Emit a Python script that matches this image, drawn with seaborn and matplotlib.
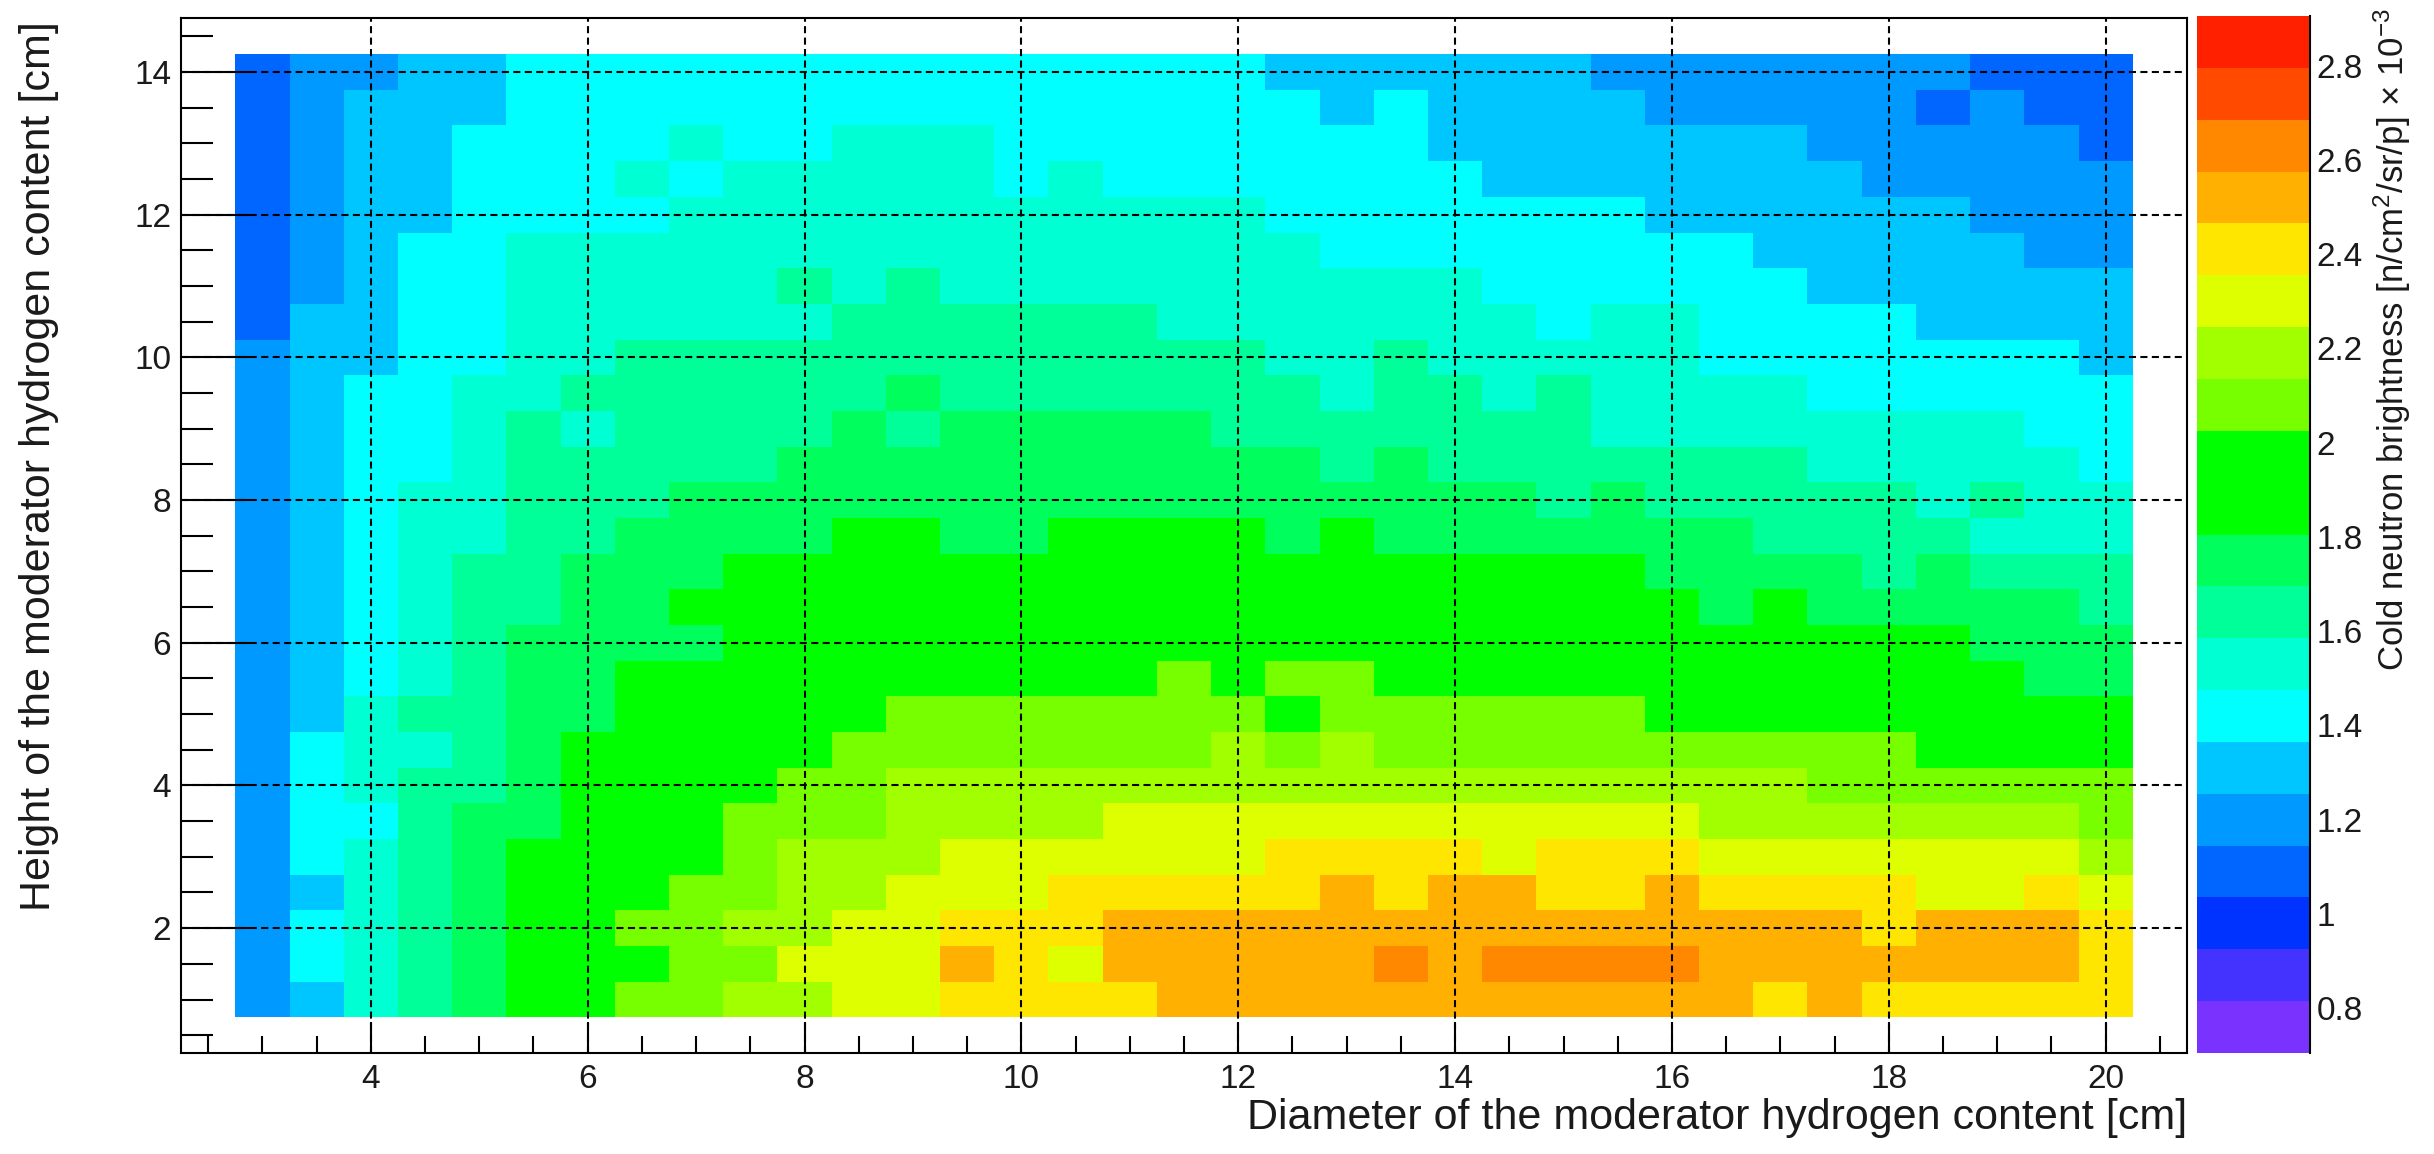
import numpy as np
import pandas as pd
import matplotlib
matplotlib.use("Agg")
import matplotlib.pyplot as plt
from matplotlib.colors import ListedColormap, BoundaryNorm
from matplotlib.ticker import FixedLocator, FuncFormatter, NullFormatter
import seaborn as sns

sns.set_theme(style="white")
plt.rcParams["font.family"] = ["Liberation Sans", "DejaVu Sans"]
plt.rcParams["mathtext.fontset"] = "custom"
plt.rcParams["mathtext.rm"] = "Liberation Sans"
plt.rcParams["mathtext.it"] = "Liberation Sans:italic"
plt.rcParams["mathtext.bf"] = "Liberation Sans:bold"

# Cold neutron brightness (x 1e-3 n/cm^2/sr/p), one list per moderator height bin.
# Columns: moderator diameter 3.0 ... 20.0 cm in 0.5 cm steps.
diameter_cm = [3.0, 3.5, 4.0, 4.5, 5.0, 5.5, 6.0, 6.5, 7.0, 7.5, 8.0, 8.5,
               9.0, 9.5, 10.0, 10.5, 11.0, 11.5, 12.0, 12.5, 13.0, 13.5,
               14.0, 14.5, 15.0, 15.5, 16.0, 16.5, 17.0, 17.5, 18.0, 18.5,
               19.0, 19.5, 20.0]

h14_0 = [1.09, 1.20, 1.20, 1.31, 1.31, 1.42, 1.42, 1.42, 1.42,
         1.42, 1.42, 1.42, 1.42, 1.42, 1.42, 1.42, 1.42, 1.42,
         1.42, 1.31, 1.31, 1.31, 1.31, 1.31, 1.31, 1.20, 1.20,
         1.20, 1.20, 1.20, 1.20, 1.20, 1.09, 1.09, 1.09]
h13_5 = [1.09, 1.20, 1.31, 1.31, 1.31, 1.42, 1.42, 1.42, 1.42,
         1.42, 1.42, 1.42, 1.42, 1.42, 1.42, 1.42, 1.42, 1.42,
         1.42, 1.42, 1.31, 1.42, 1.31, 1.31, 1.31, 1.31, 1.20,
         1.20, 1.20, 1.20, 1.20, 1.09, 1.20, 1.09, 1.09]
h13_0 = [1.09, 1.20, 1.31, 1.31, 1.42, 1.42, 1.42, 1.42, 1.53,
         1.42, 1.42, 1.53, 1.53, 1.53, 1.42, 1.42, 1.42, 1.42,
         1.42, 1.42, 1.42, 1.42, 1.31, 1.31, 1.31, 1.31, 1.31,
         1.31, 1.31, 1.20, 1.20, 1.20, 1.20, 1.20, 1.09]
h12_5 = [1.09, 1.20, 1.31, 1.31, 1.42, 1.42, 1.42, 1.53, 1.42,
         1.53, 1.53, 1.53, 1.53, 1.53, 1.42, 1.53, 1.42, 1.42,
         1.42, 1.42, 1.42, 1.42, 1.42, 1.31, 1.31, 1.31, 1.31,
         1.31, 1.31, 1.31, 1.20, 1.20, 1.20, 1.20, 1.20]
h12_0 = [1.09, 1.20, 1.31, 1.31, 1.42, 1.42, 1.42, 1.42, 1.53,
         1.53, 1.53, 1.53, 1.53, 1.53, 1.53, 1.53, 1.53, 1.53,
         1.53, 1.42, 1.42, 1.42, 1.42, 1.42, 1.42, 1.42, 1.31,
         1.31, 1.31, 1.31, 1.31, 1.31, 1.20, 1.20, 1.20]
h11_5 = [1.09, 1.20, 1.31, 1.42, 1.42, 1.53, 1.53, 1.53, 1.53,
         1.53, 1.53, 1.53, 1.53, 1.53, 1.53, 1.53, 1.53, 1.53,
         1.53, 1.53, 1.42, 1.42, 1.42, 1.42, 1.42, 1.42, 1.42,
         1.42, 1.31, 1.31, 1.31, 1.31, 1.31, 1.20, 1.20]
h11_0 = [1.09, 1.20, 1.31, 1.42, 1.42, 1.53, 1.53, 1.53, 1.53,
         1.53, 1.64, 1.53, 1.64, 1.53, 1.53, 1.53, 1.53, 1.53,
         1.53, 1.53, 1.53, 1.53, 1.53, 1.42, 1.42, 1.42, 1.42,
         1.42, 1.42, 1.31, 1.31, 1.31, 1.31, 1.31, 1.31]
h10_5 = [1.09, 1.31, 1.31, 1.42, 1.42, 1.53, 1.53, 1.53, 1.53,
         1.53, 1.53, 1.64, 1.64, 1.64, 1.64, 1.64, 1.64, 1.53,
         1.53, 1.53, 1.53, 1.53, 1.53, 1.53, 1.42, 1.53, 1.53,
         1.42, 1.42, 1.42, 1.42, 1.31, 1.31, 1.31, 1.31]
h10_0 = [1.20, 1.31, 1.31, 1.42, 1.42, 1.53, 1.53, 1.64, 1.64,
         1.64, 1.64, 1.64, 1.64, 1.64, 1.64, 1.64, 1.64, 1.64,
         1.64, 1.53, 1.53, 1.64, 1.53, 1.53, 1.53, 1.53, 1.53,
         1.42, 1.42, 1.42, 1.42, 1.42, 1.42, 1.42, 1.31]
h9_5 = [1.20, 1.31, 1.42, 1.42, 1.53, 1.53, 1.64, 1.64, 1.64,
        1.64, 1.64, 1.64, 1.75, 1.64, 1.64, 1.64, 1.64, 1.64,
        1.64, 1.64, 1.53, 1.64, 1.64, 1.53, 1.64, 1.53, 1.53,
        1.53, 1.53, 1.42, 1.42, 1.42, 1.42, 1.42, 1.42]
h9_0 = [1.20, 1.31, 1.42, 1.42, 1.53, 1.64, 1.53, 1.64, 1.64,
        1.64, 1.64, 1.75, 1.64, 1.75, 1.75, 1.75, 1.75, 1.75,
        1.64, 1.64, 1.64, 1.64, 1.64, 1.64, 1.64, 1.53, 1.53,
        1.53, 1.53, 1.53, 1.53, 1.53, 1.53, 1.42, 1.42]
h8_5 = [1.20, 1.31, 1.42, 1.42, 1.53, 1.64, 1.64, 1.64, 1.64,
        1.64, 1.75, 1.75, 1.75, 1.75, 1.75, 1.75, 1.75, 1.75,
        1.75, 1.75, 1.64, 1.75, 1.64, 1.64, 1.64, 1.64, 1.64,
        1.64, 1.64, 1.53, 1.53, 1.53, 1.53, 1.53, 1.42]
h8_0 = [1.20, 1.31, 1.42, 1.53, 1.53, 1.64, 1.64, 1.64, 1.75,
        1.75, 1.75, 1.75, 1.75, 1.75, 1.75, 1.75, 1.75, 1.75,
        1.75, 1.75, 1.75, 1.75, 1.75, 1.75, 1.64, 1.75, 1.64,
        1.64, 1.64, 1.64, 1.64, 1.53, 1.64, 1.53, 1.53]
h7_5 = [1.20, 1.31, 1.42, 1.53, 1.53, 1.64, 1.64, 1.75, 1.75,
        1.75, 1.75, 1.90, 1.90, 1.75, 1.75, 1.90, 1.90, 1.90,
        1.90, 1.75, 1.90, 1.75, 1.75, 1.75, 1.75, 1.75, 1.75,
        1.75, 1.64, 1.64, 1.64, 1.64, 1.53, 1.53, 1.53]
h7_0 = [1.20, 1.31, 1.42, 1.53, 1.64, 1.64, 1.75, 1.75, 1.75,
        1.90, 1.90, 1.90, 1.90, 1.90, 1.90, 1.90, 1.90, 1.90,
        1.90, 1.90, 1.90, 1.90, 1.90, 1.90, 1.90, 1.90, 1.75,
        1.75, 1.75, 1.75, 1.64, 1.75, 1.64, 1.64, 1.64]
h6_5 = [1.20, 1.31, 1.42, 1.53, 1.64, 1.64, 1.75, 1.75, 1.90,
        1.90, 1.90, 1.90, 1.90, 1.90, 1.90, 1.90, 1.90, 1.90,
        1.90, 1.90, 1.90, 1.90, 1.90, 1.90, 1.90, 1.90, 1.90,
        1.75, 1.90, 1.75, 1.75, 1.75, 1.75, 1.75, 1.64]
h6_0 = [1.20, 1.31, 1.42, 1.53, 1.64, 1.75, 1.75, 1.75, 1.75,
        1.90, 1.90, 1.90, 1.90, 1.90, 1.90, 1.90, 1.90, 1.90,
        1.90, 1.90, 1.90, 1.90, 1.90, 1.90, 1.90, 1.90, 1.90,
        1.90, 1.90, 1.90, 1.90, 1.90, 1.75, 1.75, 1.75]
h5_5 = [1.20, 1.31, 1.42, 1.53, 1.64, 1.75, 1.75, 1.90, 1.90,
        1.90, 1.90, 1.90, 1.90, 1.90, 1.90, 1.90, 1.90, 2.08,
        1.90, 2.08, 2.08, 1.90, 1.90, 1.90, 1.90, 1.90, 1.90,
        1.90, 1.90, 1.90, 1.90, 1.90, 1.90, 1.75, 1.75]
h5_0 = [1.20, 1.31, 1.53, 1.64, 1.64, 1.75, 1.75, 1.90, 1.90,
        1.90, 1.90, 1.90, 2.08, 2.08, 2.08, 2.08, 2.08, 2.08,
        2.08, 1.90, 2.08, 2.08, 2.08, 2.08, 2.08, 2.08, 1.90,
        1.90, 1.90, 1.90, 1.90, 1.90, 1.90, 1.90, 1.90]
h4_5 = [1.20, 1.42, 1.53, 1.53, 1.64, 1.75, 1.90, 1.90, 1.90,
        1.90, 1.90, 2.08, 2.08, 2.08, 2.08, 2.08, 2.08, 2.08,
        2.19, 2.08, 2.19, 2.08, 2.08, 2.08, 2.08, 2.08, 2.08,
        2.08, 2.08, 2.08, 2.08, 1.90, 1.90, 1.90, 1.90]
h4_0 = [1.20, 1.42, 1.53, 1.64, 1.64, 1.75, 1.90, 1.90, 1.90,
        1.90, 2.08, 2.08, 2.19, 2.19, 2.19, 2.19, 2.19, 2.19,
        2.19, 2.19, 2.19, 2.19, 2.19, 2.19, 2.19, 2.19, 2.19,
        2.19, 2.19, 2.08, 2.08, 2.08, 2.08, 2.08, 2.08]
h3_5 = [1.20, 1.42, 1.42, 1.64, 1.75, 1.75, 1.90, 1.90, 1.90,
        2.08, 2.08, 2.08, 2.19, 2.19, 2.19, 2.19, 2.30, 2.30,
        2.30, 2.30, 2.30, 2.30, 2.30, 2.30, 2.30, 2.30, 2.30,
        2.19, 2.19, 2.19, 2.19, 2.19, 2.19, 2.19, 2.08]
h3_0 = [1.20, 1.42, 1.53, 1.64, 1.75, 1.90, 1.90, 1.90, 1.90,
        2.08, 2.19, 2.19, 2.19, 2.30, 2.30, 2.30, 2.30, 2.30,
        2.30, 2.41, 2.41, 2.41, 2.41, 2.30, 2.41, 2.41, 2.41,
        2.30, 2.30, 2.30, 2.30, 2.30, 2.30, 2.30, 2.19]
h2_5 = [1.20, 1.31, 1.53, 1.64, 1.75, 1.90, 1.90, 1.90, 2.08,
        2.08, 2.19, 2.19, 2.30, 2.30, 2.30, 2.41, 2.41, 2.41,
        2.41, 2.41, 2.52, 2.41, 2.52, 2.52, 2.41, 2.41, 2.52,
        2.41, 2.41, 2.41, 2.41, 2.30, 2.30, 2.41, 2.30]
h2_0 = [1.20, 1.42, 1.53, 1.64, 1.75, 1.90, 1.90, 2.08, 2.08,
        2.19, 2.19, 2.30, 2.30, 2.41, 2.41, 2.41, 2.52, 2.52,
        2.52, 2.52, 2.52, 2.52, 2.52, 2.52, 2.52, 2.52, 2.52,
        2.52, 2.52, 2.52, 2.41, 2.52, 2.52, 2.52, 2.41]
h1_5 = [1.20, 1.42, 1.53, 1.64, 1.75, 1.90, 1.90, 1.90, 2.08,
        2.08, 2.30, 2.30, 2.30, 2.52, 2.41, 2.30, 2.52, 2.52,
        2.52, 2.52, 2.52, 2.63, 2.52, 2.63, 2.63, 2.63, 2.63,
        2.52, 2.52, 2.52, 2.52, 2.52, 2.52, 2.52, 2.41]
h1_0 = [1.20, 1.31, 1.53, 1.64, 1.75, 1.90, 1.90, 2.08, 2.08,
        2.19, 2.19, 2.30, 2.30, 2.41, 2.41, 2.41, 2.41, 2.52,
        2.52, 2.52, 2.52, 2.52, 2.52, 2.52, 2.52, 2.52, 2.52,
        2.52, 2.41, 2.52, 2.41, 2.41, 2.41, 2.41, 2.41]

height_cm = [14.0, 13.5, 13.0, 12.5, 12.0, 11.5, 11.0, 10.5, 10.0, 9.5,
             9.0, 8.5, 8.0, 7.5, 7.0, 6.5, 6.0, 5.5, 5.0, 4.5, 4.0, 3.5,
             3.0, 2.5, 2.0, 1.5, 1.0]
rows = [h14_0, h13_5, h13_0, h12_5, h12_0, h11_5, h11_0, h10_5, h10_0,
        h9_5, h9_0, h8_5, h8_0, h7_5, h7_0, h6_5, h6_0, h5_5, h5_0,
        h4_5, h4_0, h3_5, h3_0, h2_5, h2_0, h1_5, h1_0]

colorbar_ticks = [0.8, 1.0, 1.2, 1.4, 1.6, 1.8, 2.0, 2.2, 2.4, 2.6, 2.8]

# 20 contour bands between the minimum and maximum of the map
z_min, z_max, n_bands = 0.705, 2.905, 20
band_colors = ["#7a33ff", "#4433ff", "#0033ff", "#0066ff", "#0099ff",
               "#00c6ff", "#00ffff", "#00ffd2", "#00ff99", "#00ff5c",
               "#00ff00", "#00ff00", "#77ff00", "#a2ff00", "#ddff00",
               "#ffe600", "#ffb000", "#ff8800", "#ff4a00", "#ff2000"]

brightness = pd.DataFrame(rows, index=height_cm, columns=diameter_cm)

cmap = ListedColormap(band_colors)
norm = BoundaryNorm(np.linspace(z_min, z_max, n_bands + 1), cmap.N)

fig = plt.figure(figsize=(24.34, 11.54), dpi=100)
ax = fig.add_axes([0.0744, 0.0875, 0.8241, 0.8965])
cax = fig.add_axes([0.9026, 0.0875, 0.0464, 0.8986])

sns.heatmap(brightness, cmap=cmap, norm=norm, ax=ax, cbar_ax=cax,
            xticklabels=False, yticklabels=False, linewidths=0,
            cbar_kws={"ticks": colorbar_ticks})

# heatmap cells sit on integer positions; map physical cm onto them
dx = diameter_cm[1] - diameter_cm[0]
dy = height_cm[0] - height_cm[1]
x_edge = diameter_cm[0] - dx / 2
y_edge = height_cm[0] + dy / 2


def col_pos(x):
    return (np.asarray(x, dtype=float) - x_edge) / dx


def row_pos(y):
    return (y_edge - np.asarray(y, dtype=float)) / dy


ax.set_xlim(col_pos(2.25), col_pos(20.75))
ax.set_ylim(row_pos(0.25), row_pos(14.75))

x_major = np.arange(4, 20.1, 2)
x_minor = [v for v in np.arange(2.5, 20.6, 0.5) if v % 2 != 0]
y_major = np.arange(2, 14.1, 2)
y_minor = [v for v in np.arange(0.5, 14.6, 0.5) if v % 2 != 0]

ax.xaxis.set_major_locator(FixedLocator(col_pos(x_major)))
ax.xaxis.set_minor_locator(FixedLocator(col_pos(x_minor)))
ax.yaxis.set_major_locator(FixedLocator(row_pos(y_major)))
ax.yaxis.set_minor_locator(FixedLocator(row_pos(y_minor)))
ax.set_xticklabels([f"{v:g}" for v in x_major])
ax.set_yticklabels([f"{v:g}" for v in y_major])
ax.xaxis.set_minor_formatter(NullFormatter())
ax.yaxis.set_minor_formatter(NullFormatter())

text_color = "#1a1a1a"
tick_size = 24
ax.tick_params(axis="x", which="major", direction="in", length=22, width=1.5,
               labelsize=tick_size, pad=8, bottom=True, top=False,
               color="black", labelcolor=text_color)
ax.tick_params(axis="x", which="minor", direction="in", length=12, width=1.5,
               bottom=True, top=False, color="black")
ax.tick_params(axis="y", which="major", direction="in", length=50, width=1.5,
               labelsize=tick_size, pad=7, left=True, right=False,
               color="black", labelcolor=text_color)
ax.tick_params(axis="y", which="minor", direction="in", length=23, width=1.5,
               left=True, right=False, color="black")

ax.set_axisbelow(False)
ax.grid(True, which="major", color="black", linestyle=(0, (3.4, 2.1)),
        linewidth=1.5)
ax.grid(False, which="minor")

for side in ("left", "bottom", "right", "top"):
    ax.spines[side].set_visible(True)
    ax.spines[side].set_color("black")
    ax.spines[side].set_linewidth(1.5)

ax.set_xlabel("Diameter of the moderator hydrogen content [cm]",
              fontsize=31, color=text_color)
ax.xaxis.set_label_coords(1.0, -0.063)
ax.xaxis.label.set_horizontalalignment("right")
ax.xaxis.label.set_verticalalignment("center")

ax.set_ylabel("Height of the moderator hydrogen content [cm]",
              fontsize=31, color=text_color)
ax.yaxis.set_label_coords(-0.071, 0.997)
ax.yaxis.label.set_horizontalalignment("right")
ax.yaxis.label.set_verticalalignment("center")

# colour scale on the right
cbar = ax.collections[0].colorbar
cbar.outline.set_visible(False)
cax.spines["right"].set_visible(True)
cax.spines["right"].set_color("black")
cax.spines["right"].set_linewidth(1.5)
cax.minorticks_off()
cax.yaxis.set_major_formatter(FuncFormatter(lambda v, _: f"{v:g}"))
cax.tick_params(axis="y", which="major", direction="in", length=38, width=1.5,
                labelsize=tick_size, pad=5, right=True, left=False,
                color="black", labelcolor=text_color)
cax.set_ylabel("Cold neutron brightness [n/cm$^{2}$/sr/p] × 10$^{-3}$",
               fontsize=25, color=text_color)
cax.yaxis.set_label_position("right")
cax.yaxis.set_label_coords(1.73, 1.008)
cax.yaxis.label.set_rotation(90)
cax.yaxis.label.set_horizontalalignment("right")
cax.yaxis.label.set_verticalalignment("center")

fig.savefig("out.png", dpi=100)
